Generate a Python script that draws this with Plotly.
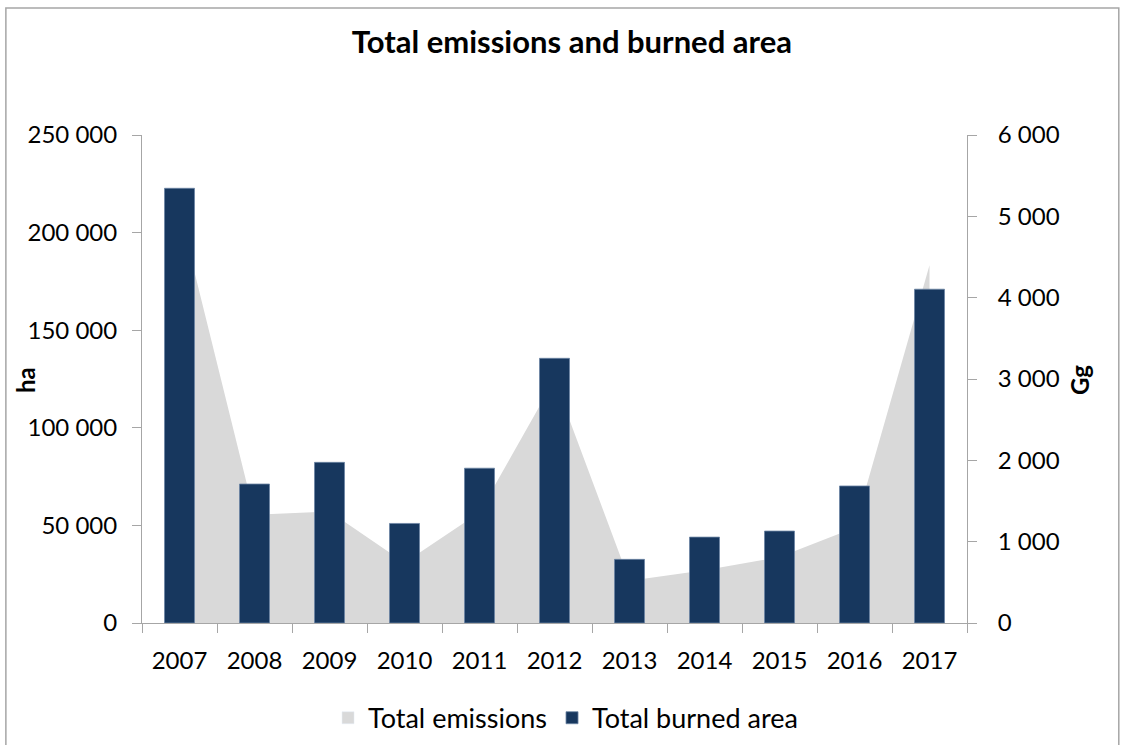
import plotly.graph_objects as go

# Annual totals
years = ["2007", "2008", "2009", "2010", "2011", "2012", "2013", "2014", "2015", "2016", "2017"]
burned_area_ha = [222700, 71200, 82300, 51000, 79300, 135600, 32600, 44000, 47100, 70200, 171000]
emissions_gg = [5060, 1330, 1370, 740, 1360, 2990, 520, 650, 810, 1170, 4400]

ha_ticks = [0, 50000, 100000, 150000, 200000, 250000]
gg_ticks = [0, 1000, 2000, 3000, 4000, 5000, 6000]

FONT = "Lato"
AXIS_GRAY = "#a6a6a6"
AREA_GRAY = "#d9d9d9"
NAVY = "#17375e"

fig = go.Figure()

# Emissions as a filled area on the Gg axis (drawn underneath)
fig.add_trace(go.Scatter(
    x=years, y=emissions_gg, name="Total emissions",
    mode="lines", fill="tozeroy", fillcolor=AREA_GRAY,
    line=dict(width=0, color=AREA_GRAY),
    yaxis="y", showlegend=False,
))
# Square legend key for the emissions area
fig.add_trace(go.Bar(
    x=[None], y=[None], name="Total emissions",
    marker=dict(color=AREA_GRAY), yaxis="y", showlegend=True,
))

# Burned area as bars on the ha axis (overlaid on top)
fig.add_trace(go.Bar(
    x=years, y=burned_area_ha, name="Total burned area",
    marker=dict(color=NAVY, line=dict(color="#6b84a3", width=0.8)),
    yaxis="y2",
))

fig.update_layout(
    width=1128, height=745,
    margin=dict(l=142, r=161, t=135, b=122),
    paper_bgcolor="white", plot_bgcolor="rgba(0,0,0,0)",
    font=dict(family=FONT, size=24, color="black"),
    separators=", ",
    bargap=0.6,
    barmode="overlay",
    showlegend=True,
    title=dict(text="<b>Total emissions and burned area</b>", x=0.507, xanchor="center",
               y=0.943, yanchor="middle", font=dict(size=31, family=FONT)),
    xaxis=dict(
        type="category", showline=True, linecolor=AXIS_GRAY, linewidth=1,
        ticks="outside", ticklen=9, tickcolor=AXIS_GRAY, tickson="boundaries",
        showgrid=False, zeroline=False, ticklabelstandoff=16, automargin=False,
    ),
    yaxis=dict(
        side="right", range=[0, 6000], tickvals=gg_ticks, tickformat=",d",
        showline=True, linecolor=AXIS_GRAY, linewidth=1,
        ticks="outside", ticklen=9, tickcolor=AXIS_GRAY,
        showgrid=False, zeroline=False, ticklabelstandoff=16, automargin=False,
    ),
    yaxis2=dict(
        side="left", overlaying="y", range=[0, 250000], tickvals=ha_ticks, tickformat=",d",
        showline=True, linecolor=AXIS_GRAY, linewidth=1,
        ticks="outside", ticklen=9, tickcolor=AXIS_GRAY,
        showgrid=False, zeroline=False, ticklabelstandoff=10, automargin=False,
    ),
    legend=dict(orientation="h", x=0.2255, xanchor="left",
                yref="container", y=0.036, yanchor="middle",
                font=dict(size=27), traceorder="normal"),
    annotations=[
        dict(text="<b>ha</b>", xref="paper", yref="paper", x=-0.1406, y=0.498,
             xanchor="center", yanchor="middle",
             showarrow=False, textangle=-90, font=dict(size=24)),
        dict(text="<b>Gg</b>", xref="paper", yref="paper", x=1.137, y=0.498,
             xanchor="center", yanchor="middle",
             showarrow=False, textangle=-90, font=dict(size=24)),
    ],
    shapes=[
        dict(type="rect", xref="paper", yref="paper", x0=-0.165, x1=1.184, y0=-0.3, y1=1.26,
             line=dict(color="#a6a6a6", width=1.5), layer="below"),
    ],
)

fig.write_html("out.html")
